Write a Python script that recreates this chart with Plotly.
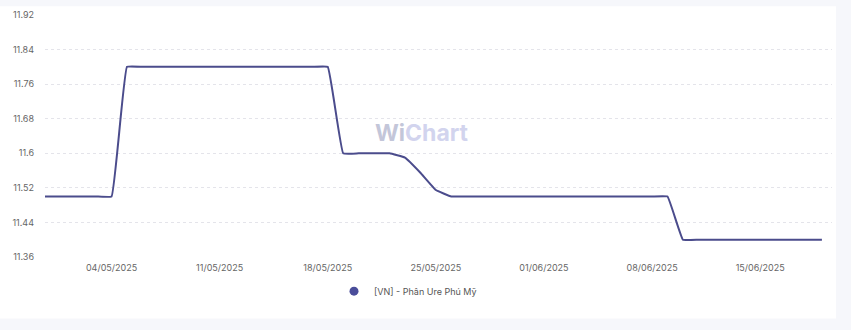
import pandas as pd
import plotly.graph_objects as go

# Data
dates = pd.date_range("2025-04-29", "2025-06-19", freq="D").strftime("%Y-%m-%d").tolist()
values = (
    [11.5] * 6          # 29/04 - 04/05
    + [11.8] * 14       # 05/05 - 18/05
    + [11.6] * 4        # 19/05 - 22/05
    + [11.59, 11.555, 11.515]  # 23/05 - 25/05
    + [11.5] * 15       # 26/05 - 09/06
    + [11.4] * 10       # 10/06 - 19/06
)
series_name = "[VN] - Phân Ure Phú Mỹ"
tick_dates = ["2025-05-04", "2025-05-11", "2025-05-18", "2025-05-25",
              "2025-06-01", "2025-06-08", "2025-06-15"]
tick_labels = ["04/05/2025", "11/05/2025", "18/05/2025", "25/05/2025",
               "01/06/2025", "08/06/2025", "15/06/2025"]
y_ticks = [11.36, 11.44, 11.52, 11.6, 11.68, 11.76, 11.84, 11.92]
y_labels = ["11.36", "11.44", "11.52", "11.6", "11.68", "11.76", "11.84", "11.92"]

LINE = "#4b4c8c"
FONT = "Inter"

fig = go.Figure()
fig.add_trace(go.Scatter(
    x=dates, y=values, mode="lines",
    line=dict(color=LINE, width=2, shape="spline", smoothing=0.25),
    showlegend=False, hoverinfo="skip",
))
fig.add_trace(go.Scatter(
    x=[None], y=[None], mode="markers", name=series_name,
    marker=dict(color="#4a4d9a", size=9, symbol="circle"),
))

W, H = 851, 330
L, R, T, B = 45, 19, 9, 73
pw, ph = W - L - R, H - T - B

def px_x(p):
    return (p - L) / pw

def px_y(q):
    return (H - B - q) / ph

# white card over light page background
fig.add_shape(type="rect", xref="paper", yref="paper",
              x0=px_x(0), x1=px_x(836), y0=px_y(320), y1=px_y(0),
              fillcolor="white", line=dict(width=0), layer="below")

fig.add_annotation(
    text="<span style='color:#c3c6d9'>Wi</span>Chart",
    xref="paper", yref="paper", x=px_x(422), y=px_y(130),
    showarrow=False, font=dict(family=FONT, size=23, color="#d2d4ee", weight="bold"),
)

fig.update_layout(
    width=W, height=H,
    margin=dict(l=L, r=R, t=T, b=B),
    paper_bgcolor="#f6f7fb",
    plot_bgcolor="rgba(0,0,0,0)",
    font=dict(family=FONT, size=9, color="#666"),
    xaxis=dict(
        type="date",
        range=["2025-04-29 16:34", "2025-06-19 15:40"],
        tickvals=tick_dates, ticktext=tick_labels,
        showgrid=False, zeroline=False, showline=False, ticks="",
        ticklabelstandoff=4,
        tickfont=dict(size=9, color="#666"),
    ),
    yaxis=dict(
        range=[11.36, 11.92],
        tickvals=y_ticks, ticktext=y_labels,
        showgrid=True, gridcolor="#e4e4ea", griddash="dot", gridwidth=1,
        zeroline=False, showline=False, ticks="",
        ticklabelstandoff=10,
        tickfont=dict(size=9, color="#666"),
    ),
    showlegend=True,
    legend=dict(orientation="h", x=px_x(408), xanchor="center",
                y=px_y(292), yanchor="middle",
                font=dict(size=9, color="#555"), bgcolor="rgba(0,0,0,0)"),
)

fig.write_html("out.html")
